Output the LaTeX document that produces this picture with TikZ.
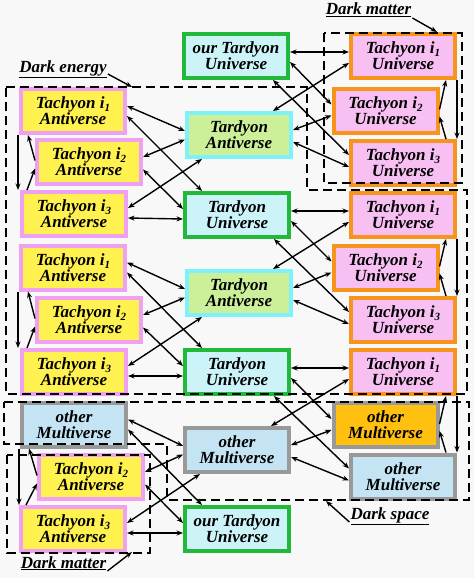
\documentclass[tikz,border=0pt]{standalone}
\usepackage{fontspec}
\setmainfont{Liberation Serif}[BoldFont={Liberation Serif Bold},ItalicFont={Liberation Serif Italic},BoldItalicFont={Liberation Serif Bold Italic}]
\usetikzlibrary{arrows.meta,calc}
\definecolor{bgc}{HTML}{F8F8F8}
\definecolor{yelF}{HTML}{FFF250}
\definecolor{pinkB}{HTML}{F0A0F0}
\definecolor{pinkF}{HTML}{F8C0F2}
\definecolor{orngB}{HTML}{F7941D}
\definecolor{cyanF}{HTML}{CCF4F8}
\definecolor{grnB}{HTML}{22B83A}
\definecolor{grnF}{HTML}{CCF09A}
\definecolor{cyanB}{HTML}{7EF2FA}
\definecolor{blueF}{HTML}{C4E4F4}
\definecolor{greyB}{HTML}{999999}
\definecolor{goldF}{HTML}{FFC010}
\newcommand\bxfont{\fontsize{17}{16}\selectfont\bfseries\itshape}
\newcommand\isub[1]{\raisebox{-0.35ex}{\fontsize{11}{11}\selectfont #1}}
\newcommand\rgrp[5]{%
 \draw[conn] ([yshift=4pt]#1.east) -- ([yshift=4pt]#3.west);
 \draw[conn] ([yshift=-6pt]#1.east) -- ([yshift=6pt]#4.west);
 \draw[conn] ([xshift=37pt]#1.south) -- ([yshift=8pt]#5.west);
 \draw[conn] ([yshift=-7pt]#3.west) -- ([xshift=34pt]#2.north);
 \draw[conn] ([yshift=-5pt]#4.west) -- ([yshift=5pt]#2.east);
 \draw[conn] ([yshift=-7pt]#2.east) -- ([yshift=-4pt]#5.west);
 \draw[varr] (#3.south east) coordinate (vt) -- (vt |- #5.north);
 \draw[varr] ([xshift=-11pt]#5.north east) -- ([yshift=-6pt]#4.east);
 \draw[varr] ([yshift=1pt]#4.east) -- ([xshift=-11pt]#3.south east);
}
\newcommand\lgrp[5]{%
 \draw[conn] ([yshift=5pt]#1.east) -- ([yshift=4pt]#4.west);
 \draw[conn] ([yshift=-5pt]#1.east) -- ([xshift=-35pt]#5.north);
 \draw[conn] ([yshift=4.5pt]#2.east) -- ([yshift=-4.5pt]#4.west);
 \draw[conn] ([yshift=-8pt]#2.east) -- ([yshift=6pt]#5.west);
 \draw[conn] ([yshift=6pt]#3.east) -- ([xshift=-37pt]#4.south);
 \draw[conn] ([yshift=-4pt]#3.east) -- ([yshift=-4pt]#5.west);
 \draw[varr] ([xshift=-1pt]#1.south west) coordinate (vt) -- (vt |- #3.north);
 \draw[varr] ([xshift=7pt]#3.north west) -- ([yshift=-7pt]#2.west);
 \draw[varr] ([yshift=1pt]#2.west) -- ([xshift=9pt]#1.south west);
}
\tikzset{
 box/.style={draw, line width=4pt, minimum width=104pt, minimum height=44pt, inner sep=0pt, align=center, font=\bxfont},
 tau/.style={box, draw=orngB, fill=pinkF},
 taa/.style={box, draw=pinkB, fill=yelF},
 tdu/.style={box, draw=grnB, fill=cyanF},
 tda/.style={box, draw=cyanB, fill=grnF},
 omv/.style={box, draw=greyB, fill=blueF},
 omo/.style={box, draw=greyB, fill=goldF},
 conn/.style={line width=1.4pt, <->, >={Stealth[length=6.5pt,width=5pt]}},
 varr/.style={line width=1.4pt, ->, >={Stealth[length=6.5pt,width=5pt]}},
 zone/.style={dash pattern=on 9pt off 5pt, line width=1.5pt},
 lbl/.style={font=\bxfont, inner sep=0pt, anchor=base},
}
\begin{document}
\begin{tikzpicture}[x=1pt,y=-1pt]
\fill[bgc] (0,0) rectangle (474,578);
\useasboundingbox (0,0) rectangle (474,578);
% left column
\node[taa] (TA1) at (73,111) {Tachyon i\isub{1}\\Antiverse};
\node[taa] (TA2) at (89,161.5) {Tachyon i\isub{2}\\Antiverse};
\node[taa] (TA3) at (74,214) {Tachyon i\isub{3}\\Antiverse};
\node[taa] (TB1) at (73,267.5) {Tachyon i\isub{1}\\Antiverse};
\node[taa] (TB2) at (89,319.5) {Tachyon i\isub{2}\\Antiverse};
\node[taa] (TB3) at (74,372) {Tachyon i\isub{3}\\Antiverse};
\node[omv] (LOM) at (74,424.5) {other\\Multiverse};
\node[taa] (TC2) at (91,476.5) {Tachyon i\isub{2}\\Antiverse};
\node[taa] (TC3) at (73,529) {Tachyon i\isub{3}\\Antiverse};
% middle column
\node[tdu] (M0) at (236,56) {our Tardyon\\Universe};
\node[tda] (M1) at (239,135) {Tardyon\\Antiverse};
\node[tdu] (M2) at (237,215) {Tardyon\\Universe};
\node[tda] (M3) at (239,293) {Tardyon\\Antiverse};
\node[tdu] (M4) at (237,372) {Tardyon\\Universe};
\node[omv] (M5) at (237,450) {other\\Multiverse};
\node[tdu] (M6) at (237,529) {our Tardyon\\Universe};
% right column
\node[tau] (RA1) at (403,56) {Tachyon i\isub{1}\\Universe};
\node[tau] (RA2) at (385.5,110.5) {Tachyon i\isub{2}\\Universe};
\node[tau] (RA3) at (403,163) {Tachyon i\isub{3}\\Universe};
\node[tau] (RB1) at (403,215) {Tachyon i\isub{1}\\Universe};
\node[tau] (RB2) at (385.5,267.5) {Tachyon i\isub{2}\\Universe};
\node[tau] (RB3) at (403,320) {Tachyon i\isub{3}\\Universe};
\node[tau] (RC1) at (403,372) {Tachyon i\isub{1}\\Universe};
\node[omo] (ROO) at (385.5,425) {other\\Multiverse};
\node[omv] (ROB) at (403,476.5) {other\\Multiverse};
% connectors
\rgrp{M0}{M1}{RA1}{RA2}{RA3}
\rgrp{M2}{M3}{RB1}{RB2}{RB3}
\rgrp{M4}{M5}{RC1}{ROO}{ROB}
\lgrp{TA1}{TA2}{TA3}{M1}{M2}
\lgrp{TB1}{TB2}{TB3}{M3}{M4}
\lgrp{LOM}{TC2}{TC3}{M5}{M6}
% zones
\draw[zone] (6,87) -- (307,87) -- (307,190) -- (467,190) -- (467,394) -- (6,394) -- cycle;
\draw[zone] (324,33) rectangle (462,183);
\draw[zone] (4,402) -- (469,402) -- (469,500) -- (167,500) -- (167,444) -- (4,444) -- cycle;
\draw[zone] (7,455) rectangle (150,553);
% labels
\node[lbl] (lde) at (63,72) {\underline{Dark energy}};
\node[lbl] (ldm) at (368.5,15) {\underline{Dark matter}};
\node[lbl] (lds) at (390,519) {\underline{Dark space}};
\node[lbl] (ldb) at (63.5,568) {\underline{Dark matter}};
\coordinate (tde) at (132,87);
\coordinate (tdm) at (437,32);
\coordinate (tds) at (326,501);
\coordinate (tdb) at (132,552);
\draw[varr] ([xshift=1pt,yshift=-2pt]lde.base east) -- (tde);
\draw[varr] ([xshift=1pt,yshift=-3pt]ldm.base east) -- (tdm);
\draw[varr] ([xshift=-1pt,yshift=-3pt]lds.base west) -- (tds);
\draw[varr] ([xshift=1pt,yshift=-3pt]ldb.base east) -- (tdb);
\end{tikzpicture}
\end{document}
